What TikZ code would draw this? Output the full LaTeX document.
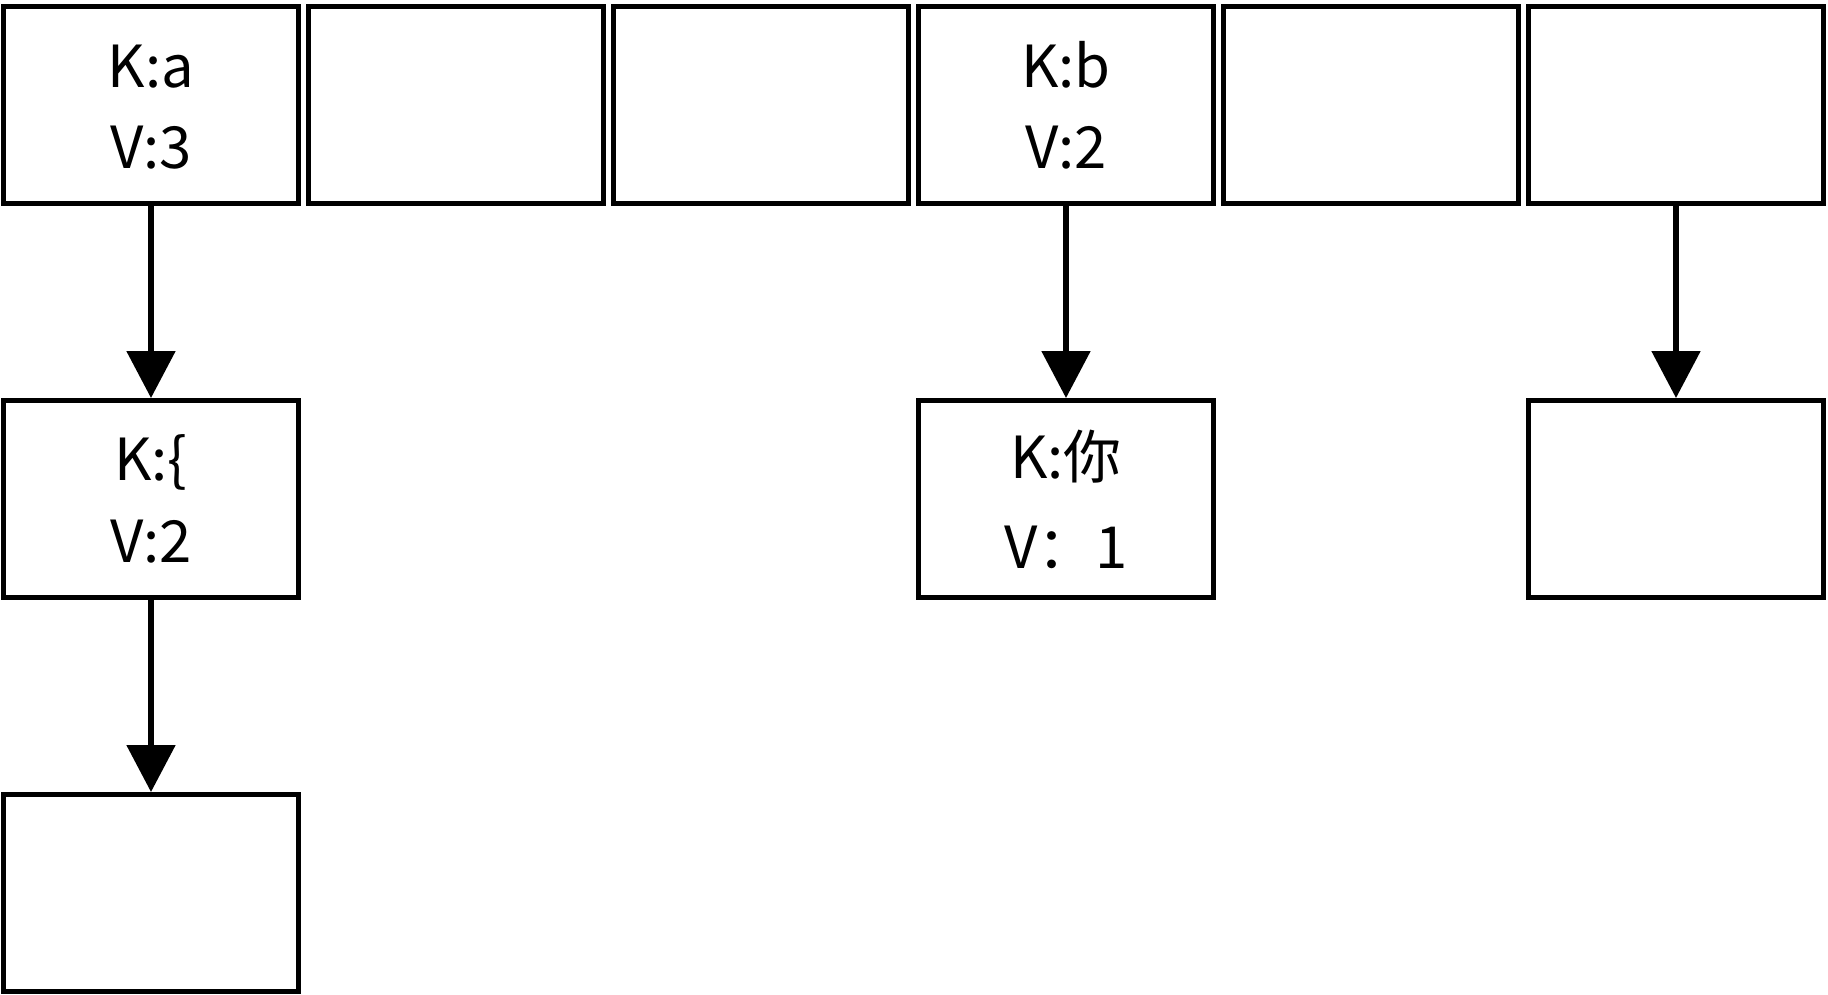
\documentclass[tikz,border=0pt]{standalone}
\usepackage{fontspec}
\setmainfont{Noto Sans CJK SC}
\usetikzlibrary{arrows.meta}
\begin{document}
\begin{tikzpicture}[x=1pt,y=-1pt,
  cell/.style={draw=black,line width=5.3pt,minimum width=294.7pt,minimum height=196.7pt,inner sep=0pt,fill=white},
  txt/.style={anchor=base,inner sep=0pt,font=\fontsize{58}{60}\selectfont},
  link/.style={line width=5.3pt,-{Triangle[length=47pt,width=48pt]}}]
\useasboundingbox (0,0) rectangle (1828,995);
% top row
\node[cell] (t1) at (151,105) {};
\node[cell] (t2) at (456,105) {};
\node[cell] (t3) at (761,105) {};
\node[cell] (t4) at (1066,105) {};
\node[cell] (t5) at (1371,105) {};
\node[cell] (t6) at (1676,105) {};
% second row
\node[cell] (m1) at (151,499) {};
\node[cell] (m4) at (1066,499) {};
\node[cell] (m6) at (1676,499) {};
% third row
\node[cell] (b1) at (151,893) {};
% texts
\node[txt] (t1k) at (151,87.5) {K:a};
\node[txt] (t1v) at (151,169) {V:3};
\node[txt] (t4k) at (1066,87.5) {K:b};
\node[txt] (t4v) at (1066,169) {V:2};
\node[txt] (m1k) at (151,480) {K:\{};
\node[txt] (m1v) at (151,562) {V:2};
\node[txt] (m4k) at (1066,478) {K:你};
\node[txt] (m4v) at (1066,568) {V：1};
% arrows
\draw[link] (t1.south) -- (m1.north);
\draw[link] (t4.south) -- (m4.north);
\draw[link] (t6.south) -- (m6.north);
\draw[link] (m1.south) -- (b1.north);
\end{tikzpicture}
\end{document}
